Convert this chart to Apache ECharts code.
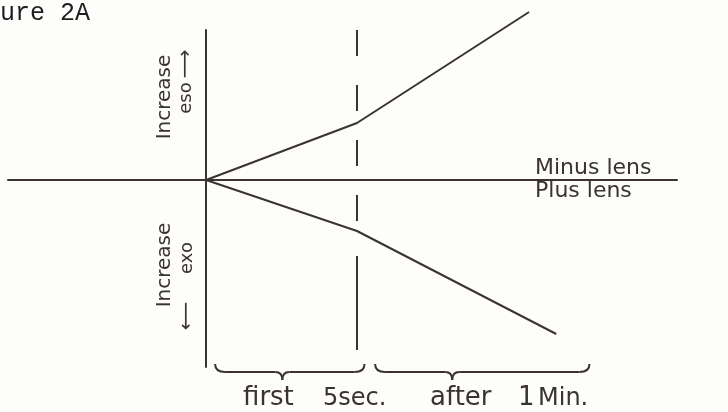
<!DOCTYPE html>
<html>
<head>
<meta charset="utf-8">
<script src="https://cdn.jsdelivr.net/npm/echarts@6/dist/echarts.min.js"></script>
<style>
  html, body { margin: 0; padding: 0; background: #fdfdfb; }
  #chart { width: 728px; height: 412px; }
</style>
</head>
<body>
<div id="chart"></div>
<script>
// Schematic: eso/exo shift over time for minus and plus lenses
const timePoints = ['start', 'first 5 sec', 'after 1 min'];
const minusLensX = [0, 5, 10.7];
const minusLensY = [0, 5.7, 16.8];   // increase eso (upward)
const plusLensX  = [0, 5, 11.6];
const plusLensY  = [0, -5.1, -15.4]; // increase exo (downward)
const markerX = 5;                    // end of the first 5 seconds
const markerDashed = [15.0, -5.0];
const markerSolid = [-7.6, -17.0];
const braceRanges = [[0.3, 5.25, 0.45], [5.6, 12.7, 0.36]]; // from, to, tip position

const ink = '#3b3330';
const hand = '"DejaVu Sans", "Noto Sans", sans-serif';

const toPairs = (xs, ys) => xs.map((x, i) => [x, ys[i]]);

const chart = echarts.init(document.getElementById('chart'));
chart.setOption({
  backgroundColor: '#fdfdfb',
  animation: false,
  grid: { left: 8, right: 51, top: 30, bottom: 45 },
  xAxis: {
    type: 'value', min: -6.56, max: 15.6,
    axisLine: { onZero: true, lineStyle: { color: ink, width: 2 } },
    axisTick: { show: false }, axisLabel: { show: false }, splitLine: { show: false }
  },
  yAxis: {
    type: 'value', min: -18.7, max: 15.0,
    axisLine: { show: true, onZero: true, lineStyle: { color: ink, width: 2 } },
    axisTick: { show: false }, axisLabel: { show: false }, splitLine: { show: false }
  },
  series: [
    {
      name: 'Minus lens', type: 'line', clip: false, symbol: 'none',
      data: toPairs(minusLensX, minusLensY),
      lineStyle: { color: ink, width: 2 },
      markLine: {
        silent: true, symbol: 'none', label: { show: false },
        data: [
          [{ coord: [markerX, markerDashed[0]], lineStyle: { color: ink, width: 2, type: [26, 29] } },
           { coord: [markerX, markerDashed[1]] }],
          [{ coord: [markerX, markerSolid[0]], lineStyle: { color: ink, width: 2, type: 'solid' } },
           { coord: [markerX, markerSolid[1]] }]
        ]
      }
    },
    {
      name: 'Plus lens', type: 'line', clip: false, symbol: 'none',
      data: toPairs(plusLensX, plusLensY),
      lineStyle: { color: ink, width: 2 }
    }
  ]
});

// Curly brace built from straight runs and quadratic hooks
function braceParts(x1, x2, xm, y0) {
  const y1 = y0 + 8, y2 = y0 + 16;
  const st = { stroke: ink, lineWidth: 2, fill: null };
  const curve = (ax, ay, bx, by, cx, cy) =>
    ({ type: 'bezierCurve', shape: { x1: ax, y1: ay, x2: bx, y2: by, cpx1: cx, cpy1: cy }, style: st });
  const seg = (ax, ay, bx, by) =>
    ({ type: 'line', shape: { x1: ax, y1: ay, x2: bx, y2: by }, style: st });
  return [
    curve(x1, y0, x1 + 10, y1, x1, y1),
    seg(x1 + 10, y1, xm - 7, y1),
    curve(xm - 7, y1, xm, y2, xm, y1),
    curve(xm, y2, xm + 7, y1, xm, y1),
    seg(xm + 7, y1, x2 - 10, y1),
    curve(x2 - 10, y1, x2, y0, x2, y1)
  ];
}

const elements = [];
const braceTop = 364;
braceRanges.forEach((r) => {
  const x1 = chart.convertToPixel({ gridIndex: 0 }, [r[0], 0])[0];
  const x2 = chart.convertToPixel({ gridIndex: 0 }, [r[1], 0])[0];
  const xm = x1 + (x2 - x1) * r[2];
  elements.push(...braceParts(x1, x2, xm, braceTop));
});

// word placed by its baseline
const word = (text, x, baseline, size) =>
  ({ type: 'text', x, y: baseline - Math.round(size * 0.77),
     style: { text, font: size + 'px ' + hand, fill: ink, align: 'left', verticalAlign: 'top' } });
const upright = (text, cx, cy, size) =>
  ({ type: 'text', x: cx, y: cy, rotation: Math.PI / 2,
     style: { text, font: size + 'px ' + hand, fill: ink, align: 'center', verticalAlign: 'middle' } });

elements.push(
  // time span captions under the braces
  word('first', 243, 405, 26),
  word('5sec.', 323, 405, 24),
  word('after', 430, 405, 26),
  word('1', 518, 405, 26),
  word('Min.', 538, 405, 24),
  // lens captions on either side of the baseline
  word('Minus lens', 535, 174, 22),
  word('Plus lens', 535, 197, 22),
  // vertical captions
  upright('Increase', 165, 97, 20),
  upright('eso', 186, 98, 18),
  upright('⟶', 186, 64, 20),
  upright('Increase', 165, 265, 20),
  upright('exo', 187, 258, 18),
  upright('⟵', 187, 316, 20),
  { type: 'text', x: -45, y: 1, style: { text: 'Figure 2A', font: '25px "Liberation Mono", monospace', fill: '#1e1e1e' } }
);
chart.setOption({ graphic: { elements } });
</script>
</body>
</html>
